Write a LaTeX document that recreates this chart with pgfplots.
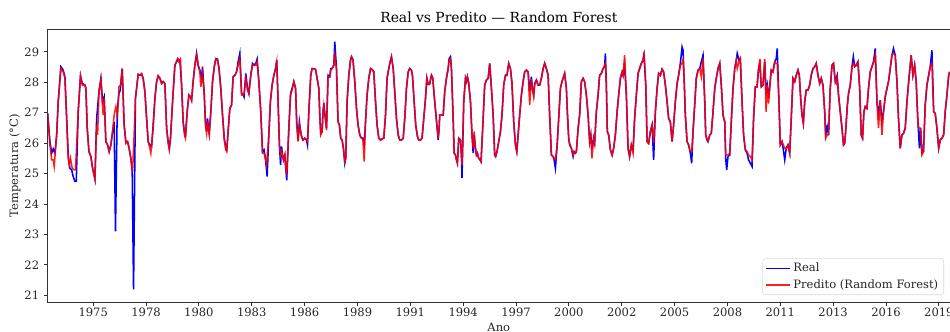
\documentclass[border=0pt]{standalone}
\usepackage{fontspec}
\setmainfont{DejaVu Serif}
\usepackage{pgfplots}
\pgfplotsset{compat=1.18}
\usepackage{pgfplotstable}

\pgfplotstableread{
x y
1972.63 26.98
1972.75 26.05
1972.84 25.67
1972.92 25.81
1973.01 25.67
1973.10 26.27
1973.18 27.36
1973.32 28.51
1973.44 28.40
1973.53 28.18
1973.62 26.81
1973.70 25.61
1973.79 25.17
1973.88 25.12
1973.96 24.90
1974.05 24.74
1974.12 24.74
1974.22 27.03
1974.34 28.21
1974.43 27.96
1974.57 27.91
1974.62 27.80
1974.69 26.49
1974.78 25.72
1974.88 25.56
1974.97 25.17
1975.09 24.82
1975.18 26.81
1975.30 27.69
1975.40 28.13
1975.49 27.36
1975.57 27.52
1975.66 26.05
1975.75 25.94
1975.83 25.72
1975.92 25.94
1976.01 26.38
1976.09 26.70
1976.16 23.10
1976.25 27.03
1976.34 27.63
1976.41 27.74
1976.51 28.45
1976.61 26.60
1976.70 26.05
1976.79 26.05
1976.87 25.83
1976.96 25.50
1977.03 25.07
1977.10 21.19
1977.20 27.47
1977.34 28.26
1977.43 28.23
1977.52 28.26
1977.60 28.13
1977.69 27.69
1977.78 26.81
1977.86 26.05
1977.95 25.94
1978.04 25.89
1978.12 26.60
1978.21 27.47
1978.30 28.02
1978.38 28.21
1978.47 28.13
1978.56 27.96
1978.64 28.02
1978.73 27.96
1978.82 26.49
1978.90 26.05
1978.96 25.83
1979.02 26.16
1979.13 27.36
1979.25 28.56
1979.34 28.67
1979.42 28.76
1979.51 28.73
1979.60 27.91
1979.68 26.70
1979.77 26.22
1979.80 26.22
1979.89 27.03
1979.98 27.58
1980.06 27.52
1980.12 27.41
1980.20 28.02
1980.29 28.56
1980.38 28.95
1980.46 28.56
1980.55 28.40
1980.64 28.13
1980.69 28.51
1980.78 27.58
1980.84 26.70
1980.90 26.38
1980.95 26.81
1980.98 26.60
1981.04 26.32
1981.12 27.03
1981.21 28.02
1981.30 28.51
1981.38 28.78
1981.47 28.76
1981.55 28.45
1981.64 27.80
1981.73 26.92
1981.82 26.16
1981.90 25.83
1981.95 25.78
1982.02 26.38
1982.11 27.14
1982.20 27.25
1982.28 28.18
1982.37 28.23
1982.46 28.34
1982.54 28.67
1982.63 28.95
1982.72 27.63
1982.80 27.60
1982.85 27.52
1982.94 28.29
1983.03 27.80
1983.10 27.63
1983.20 28.23
1983.29 28.62
1983.38 28.56
1983.46 28.62
1983.53 28.76
1983.62 28.02
1983.72 27.03
1983.81 25.72
1983.89 25.78
1983.96 25.50
1984.05 24.90
1984.14 26.27
1984.22 27.36
1984.31 27.91
1984.40 28.23
1984.49 28.45
1984.55 28.73
1984.62 27.36
1984.69 25.94
1984.75 25.28
1984.80 25.89
1984.85 25.61
1984.90 25.45
1984.97 25.61
1985.02 25.17
1985.07 24.78
1985.18 26.49
1985.27 27.63
1985.35 27.80
1985.44 28.02
1985.53 27.80
1985.59 26.70
1985.66 26.10
1985.73 26.70
1985.82 26.27
1985.91 26.10
1986.01 26.16
1986.10 26.10
1986.15 25.94
1986.22 27.03
1986.32 28.23
1986.39 28.45
1986.48 28.45
1986.57 28.42
1986.65 28.13
1986.74 27.80
1986.79 26.92
1986.84 26.32
1986.91 26.38
1986.96 27.03
1987.00 27.31
1987.05 26.98
1987.14 26.49
1987.22 28.23
1987.31 28.18
1987.36 28.45
1987.43 28.45
1987.52 28.56
1987.57 29.33
1987.66 28.45
1987.74 26.70
1987.81 26.60
1987.88 26.16
1987.95 26.10
1988.02 25.83
1988.09 25.34
1988.14 25.50
1988.21 27.36
1988.30 28.23
1988.39 28.73
1988.44 28.84
1988.52 28.73
1988.61 28.02
1988.70 27.14
1988.78 26.60
1988.87 26.27
1988.96 26.16
1989.03 26.16
1989.10 25.94
1989.17 26.70
1989.25 27.58
1989.34 28.13
1989.43 28.45
1989.51 28.42
1989.60 28.34
1989.69 27.36
1989.77 26.60
1989.86 26.16
1989.95 26.10
1990.03 26.14
1990.12 26.16
1990.21 26.92
1990.29 28.13
1990.38 28.45
1990.45 28.67
1990.52 28.84
1990.61 28.45
1990.69 27.69
1990.78 26.81
1990.87 26.27
1990.95 26.10
1991.04 26.10
1991.13 26.16
1991.21 26.81
1991.30 27.80
1991.39 28.34
1991.47 28.45
1991.56 28.40
1991.61 28.23
1991.70 27.36
1991.78 26.60
1991.87 26.22
1991.94 26.10
1992.03 26.10
1992.11 26.16
1992.20 26.81
1992.29 27.47
1992.36 28.13
1992.43 27.93
1992.50 27.93
1992.60 28.23
1992.67 28.13
1992.74 27.58
1992.95 26.10
1993.00 26.49
1993.03 26.92
1993.12 26.92
1993.21 26.92
1993.29 27.69
1993.38 28.13
1993.47 28.45
1993.52 28.78
1993.59 28.84
1993.64 28.45
1993.73 26.81
1993.78 25.67
1993.85 25.61
1993.90 25.45
1993.95 25.34
1994.02 26.16
1994.11 26.10
1994.16 25.61
1994.19 24.85
1994.28 27.36
1994.37 28.13
1994.42 28.02
1994.47 28.18
1994.54 27.96
1994.63 27.36
1994.71 26.27
1994.77 25.67
1994.82 26.27
1994.89 25.83
1994.94 25.61
1994.99 25.67
1995.06 25.50
1995.13 25.45
1995.18 25.39
1995.29 26.81
1995.37 27.91
1995.46 28.07
1995.55 28.13
1995.63 28.62
1995.72 27.80
1995.81 26.92
1995.89 25.61
1995.94 25.56
1996.01 25.72
1996.10 26.05
1996.19 26.38
1996.27 26.92
1996.36 27.91
1996.45 28.23
1996.53 28.23
1996.62 28.62
1996.71 28.45
1996.79 27.96
1996.88 26.70
1996.97 25.94
1997.04 25.72
1997.11 26.27
1997.19 26.92
1997.28 27.58
1997.37 28.02
1997.45 28.34
1997.54 28.40
1997.63 28.34
1997.71 27.69
1997.80 28.18
1997.85 27.80
1997.92 27.58
1997.97 27.96
1998.06 28.07
1998.15 27.91
1998.23 27.91
1998.32 28.13
1998.41 28.45
1998.49 28.62
1998.58 28.45
1998.67 28.23
1998.75 26.92
1998.84 25.61
1998.93 25.56
1998.98 25.45
1999.05 25.17
1999.14 25.94
1999.22 26.81
1999.31 27.80
1999.39 28.02
1999.50 28.23
1999.53 28.29
1999.62 27.80
1999.67 27.03
1999.74 26.16
1999.79 25.94
1999.88 25.83
1999.97 25.56
2000.02 25.72
2000.09 25.67
2000.14 25.72
2000.23 26.49
2000.31 26.92
2000.40 28.02
2000.49 28.13
2000.57 28.02
2000.66 27.58
2000.75 26.92
2000.83 26.05
2000.89 26.27
2000.95 25.83
2001.04 26.16
2001.09 26.00
2001.18 27.03
2001.27 27.58
2001.35 28.23
2001.44 28.29
2001.53 28.45
2001.61 28.51
2001.65 28.95
2001.70 27.91
2001.75 26.38
2001.82 26.27
2001.91 25.78
2002.00 25.61
2002.08 25.83
2002.17 26.27
2002.26 27.03
2002.34 27.58
2002.43 28.13
2002.52 28.34
2002.57 28.23
2002.65 28.56
2002.74 27.58
2002.83 25.83
2002.91 25.56
2003.00 25.94
2003.09 25.78
2003.17 26.81
2003.26 27.58
2003.35 28.29
2003.43 28.45
2003.52 28.62
2003.61 28.73
2003.66 28.89
2003.75 27.91
2003.82 26.05
2003.90 25.99
2003.99 26.38
2004.08 26.60
2004.16 25.45
2004.25 27.03
2004.34 27.80
2004.42 28.29
2004.51 28.23
2004.60 28.43
2004.68 28.34
2004.77 27.91
2004.86 27.36
2004.94 26.81
2005.03 26.70
2005.12 26.05
2005.20 26.60
2005.29 27.36
2005.38 27.96
2005.46 28.23
2005.55 28.62
2005.64 29.16
2005.69 29.05
2005.74 28.23
2005.81 26.92
2005.90 26.05
2005.98 25.94
2006.07 25.67
2006.14 25.34
2006.21 26.38
2006.29 27.20
2006.38 28.13
2006.47 28.40
2006.56 28.45
2006.64 28.67
2006.73 28.89
2006.82 27.36
2006.87 26.27
2006.94 26.10
2006.99 26.05
2007.08 26.27
2007.16 26.32
2007.25 27.03
2007.34 27.80
2007.42 28.13
2007.51 28.45
2007.60 28.62
2007.68 27.91
2007.77 26.92
2007.86 26.70
2007.91 25.50
2007.96 25.12
2008.03 25.56
2008.12 25.61
2008.20 26.70
2008.29 27.80
2008.38 28.45
2008.46 28.73
2008.51 28.95
2008.60 28.73
2008.67 28.78
2008.76 27.36
2008.84 26.27
2008.93 25.78
2009.02 25.67
2009.10 25.45
2009.19 25.34
2009.28 25.23
2009.36 26.81
2009.45 27.85
2009.54 27.85
2009.62 28.45
2009.69 28.62
2009.76 27.85
2009.85 27.91
2009.94 28.67
2010.01 27.69
2010.07 27.91
2010.14 27.47
2010.21 27.91
2010.28 28.40
2010.37 28.34
2010.46 28.67
2010.54 28.78
2010.59 29.11
2010.68 27.36
2010.75 25.94
2010.84 26.05
2010.91 25.78
2010.98 25.45
2011.06 25.83
2011.15 25.94
2011.24 25.67
2011.32 26.81
2011.41 28.13
2011.50 28.02
2011.58 28.23
2011.67 28.40
2011.74 28.23
2011.81 27.47
2011.88 26.92
2011.95 26.65
2012.02 27.36
2012.10 27.74
2012.19 27.74
2012.28 27.91
2012.36 28.23
2012.45 28.45
2012.54 28.51
2012.62 28.62
2012.71 28.23
2012.80 27.96
2012.88 28.13
2012.97 27.91
2013.06 27.03
2013.11 26.27
2013.19 26.54
2013.26 26.27
2013.35 27.80
2013.44 28.56
2013.52 28.62
2013.61 28.02
2013.71 28.23
2013.78 27.58
2013.87 27.03
2013.96 26.49
2014.04 25.94
2014.10 25.99
2014.15 26.38
2014.24 27.25
2014.30 27.63
2014.39 27.91
2014.48 28.51
2014.55 28.84
2014.62 28.51
2014.70 28.56
2014.79 28.67
2014.88 27.80
2014.96 26.27
2015.03 26.16
2015.10 27.03
2015.17 27.20
2015.26 27.14
2015.34 27.80
2015.43 28.34
2015.52 28.51
2015.60 28.67
2015.69 29.11
2015.78 27.36
2015.86 26.92
2015.95 27.41
2016.04 26.70
2016.12 27.03
2016.21 27.52
2016.30 27.80
2016.38 28.02
2016.47 28.45
2016.56 28.89
2016.64 29.11
2016.73 28.89
2016.82 28.02
2016.90 26.81
2016.99 25.83
2017.08 26.27
2017.16 26.32
2017.25 26.49
2017.34 27.36
2017.43 28.02
2017.51 28.56
2017.56 28.89
2017.65 28.23
2017.74 28.56
2017.82 28.02
2017.91 26.70
2017.99 25.83
2018.05 26.49
2018.12 25.67
2018.20 25.72
2018.29 27.25
2018.38 27.91
2018.47 28.23
2018.55 28.51
2018.64 29.05
2018.73 27.03
2018.81 26.98
2018.90 26.49
2018.99 25.83
2019.07 26.10
2019.16 26.16
2019.25 26.27
2019.33 27.03
2019.42 27.58
2019.51 28.23
2019.56 28.34
}\real

\pgfplotstableread{
x y
1972.63 26.98
1972.75 25.94
1972.84 25.45
1972.92 25.45
1972.97 25.23
1973.10 26.27
1973.18 27.36
1973.32 28.45
1973.44 28.34
1973.53 28.13
1973.62 26.81
1973.70 25.50
1973.75 25.28
1973.82 25.50
1973.91 25.17
1974.00 25.12
1974.08 25.12
1974.22 27.03
1974.34 28.21
1974.43 27.91
1974.57 27.91
1974.62 27.80
1974.69 26.49
1974.78 25.72
1974.88 25.56
1974.97 25.17
1975.09 24.82
1975.18 26.60
1975.23 26.27
1975.30 27.69
1975.40 28.07
1975.47 27.36
1975.52 26.92
1975.57 27.47
1975.66 26.05
1975.75 25.94
1975.83 25.72
1975.92 25.94
1976.01 26.38
1976.09 26.92
1976.18 27.20
1976.27 26.92
1976.34 27.85
1976.42 27.91
1976.51 28.45
1976.61 26.60
1976.70 25.99
1976.79 26.05
1976.87 25.83
1976.96 25.50
1977.05 25.07
1977.13 26.27
1977.20 27.47
1977.34 28.26
1977.43 28.23
1977.52 28.29
1977.60 28.13
1977.69 27.69
1977.78 26.81
1977.86 26.05
1977.95 25.83
1978.00 25.67
1978.07 26.16
1978.12 26.49
1978.21 27.47
1978.30 28.02
1978.38 28.21
1978.47 28.13
1978.56 27.96
1978.64 28.02
1978.73 27.96
1978.82 26.49
1978.90 25.99
1978.96 25.78
1979.02 26.10
1979.13 27.36
1979.25 28.56
1979.39 28.78
1979.46 28.67
1979.54 28.76
1979.60 27.91
1979.68 26.70
1979.77 26.22
1979.80 26.16
1979.89 27.03
1979.98 27.58
1980.06 27.52
1980.12 27.41
1980.20 28.02
1980.29 28.56
1980.38 28.89
1980.46 28.56
1980.55 28.34
1980.60 27.85
1980.69 28.29
1980.78 27.58
1980.84 26.60
1980.90 26.32
1980.95 26.70
1980.98 26.49
1981.04 26.27
1981.12 27.03
1981.21 28.02
1981.30 28.51
1981.38 28.76
1981.47 28.73
1981.55 28.40
1981.64 27.80
1981.73 26.92
1981.82 26.10
1981.90 25.78
1981.95 25.72
1982.02 26.38
1982.11 27.14
1982.20 27.25
1982.28 28.18
1982.37 28.23
1982.46 28.34
1982.54 28.56
1982.63 28.78
1982.72 27.58
1982.80 27.58
1982.85 27.63
1982.94 28.13
1983.03 27.74
1983.10 27.63
1983.20 28.23
1983.29 28.56
1983.38 28.56
1983.46 28.56
1983.53 28.67
1983.62 28.02
1983.72 27.03
1983.81 25.67
1983.89 25.67
1983.96 25.50
1984.02 25.28
1984.14 26.27
1984.22 27.36
1984.31 27.91
1984.40 28.23
1984.49 28.45
1984.55 28.67
1984.62 27.36
1984.69 25.94
1984.75 25.61
1984.80 25.72
1984.85 25.61
1984.90 25.45
1984.97 25.61
1985.02 25.17
1985.07 24.96
1985.18 26.49
1985.27 27.58
1985.35 27.74
1985.44 28.02
1985.53 27.80
1985.59 26.60
1985.66 26.05
1985.73 26.60
1985.82 26.27
1985.91 26.10
1986.01 26.16
1986.10 26.10
1986.15 26.05
1986.22 27.03
1986.32 28.23
1986.39 28.45
1986.48 28.45
1986.57 28.42
1986.65 28.13
1986.74 27.80
1986.79 26.92
1986.84 26.27
1986.91 26.38
1986.96 27.03
1987.00 27.25
1987.05 26.98
1987.14 26.43
1987.22 28.18
1987.31 28.18
1987.36 28.40
1987.43 28.45
1987.52 28.56
1987.57 28.89
1987.66 28.40
1987.74 26.70
1987.81 26.60
1987.88 26.16
1987.95 26.10
1988.02 25.83
1988.09 25.39
1988.14 25.50
1988.21 27.36
1988.30 28.23
1988.39 28.73
1988.44 28.84
1988.52 28.73
1988.61 28.02
1988.70 27.14
1988.78 26.60
1988.87 26.27
1988.96 26.16
1989.03 26.16
1989.10 25.39
1989.17 26.70
1989.25 27.58
1989.34 28.13
1989.43 28.45
1989.51 28.42
1989.60 28.34
1989.69 27.36
1989.77 26.60
1989.86 26.16
1989.95 26.10
1990.03 26.14
1990.12 26.16
1990.21 26.92
1990.29 28.13
1990.38 28.45
1990.45 28.67
1990.52 28.84
1990.61 28.45
1990.69 27.69
1990.78 26.81
1990.87 26.27
1990.95 26.10
1991.04 26.10
1991.13 26.16
1991.21 26.81
1991.30 27.80
1991.39 28.34
1991.47 28.45
1991.56 28.40
1991.61 28.23
1991.70 27.36
1991.78 26.60
1991.87 26.22
1991.94 26.10
1992.03 26.10
1992.11 26.16
1992.20 26.81
1992.29 27.47
1992.36 28.13
1992.43 27.93
1992.50 27.93
1992.60 28.23
1992.67 28.13
1992.74 27.58
1992.95 26.16
1993.00 26.49
1993.03 26.92
1993.12 26.92
1993.21 26.92
1993.29 27.69
1993.38 28.13
1993.47 28.45
1993.52 28.73
1993.59 28.78
1993.64 28.45
1993.73 26.81
1993.78 25.67
1993.85 25.61
1993.90 25.45
1993.95 25.34
1994.02 26.16
1994.11 26.10
1994.16 25.56
1994.19 25.28
1994.28 27.36
1994.37 28.13
1994.42 28.02
1994.47 28.18
1994.54 27.96
1994.63 27.36
1994.71 26.27
1994.77 25.83
1994.82 26.38
1994.89 25.83
1994.94 25.61
1994.99 25.67
1995.06 25.50
1995.13 25.45
1995.18 25.39
1995.29 26.81
1995.37 27.91
1995.46 28.07
1995.55 28.13
1995.63 28.62
1995.72 27.80
1995.81 26.92
1995.89 25.61
1995.94 25.56
1996.01 25.72
1996.10 26.05
1996.19 26.38
1996.27 26.92
1996.36 27.91
1996.45 28.23
1996.53 28.23
1996.62 28.62
1996.71 28.45
1996.79 27.96
1996.88 26.70
1996.97 25.94
1997.04 25.72
1997.11 26.27
1997.19 26.92
1997.28 27.58
1997.37 28.02
1997.45 28.34
1997.54 28.40
1997.63 28.34
1997.71 27.25
1997.80 28.10
1997.85 27.80
1997.92 27.52
1997.97 27.91
1998.06 28.07
1998.15 27.91
1998.23 27.91
1998.32 28.13
1998.41 28.45
1998.49 28.62
1998.58 28.45
1998.67 28.23
1998.75 26.92
1998.84 25.61
1998.93 25.56
1998.98 25.50
1999.05 25.45
1999.14 25.94
1999.22 26.81
1999.31 27.80
1999.39 28.02
1999.50 28.23
1999.53 28.29
1999.62 27.80
1999.67 27.03
1999.74 26.16
1999.79 25.99
1999.88 25.83
1999.97 25.61
2000.02 25.72
2000.09 25.67
2000.14 25.72
2000.23 26.49
2000.31 26.92
2000.40 28.02
2000.49 28.13
2000.57 28.02
2000.66 27.58
2000.75 26.92
2000.83 26.05
2000.89 26.27
2000.95 25.50
2001.04 26.16
2001.09 26.00
2001.18 27.03
2001.27 27.58
2001.35 28.23
2001.44 28.29
2001.53 28.45
2001.61 28.56
2001.65 28.62
2001.70 27.91
2001.75 26.38
2001.82 26.27
2001.91 25.78
2002.00 25.61
2002.08 25.83
2002.17 26.27
2002.26 27.03
2002.34 27.58
2002.43 28.13
2002.52 28.34
2002.57 28.23
2002.65 28.89
2002.74 27.58
2002.83 25.83
2002.91 25.56
2003.00 25.94
2003.09 25.67
2003.17 26.81
2003.26 27.58
2003.35 28.29
2003.43 28.45
2003.52 28.62
2003.61 28.73
2003.66 29.00
2003.75 27.91
2003.82 26.05
2003.90 25.99
2003.99 26.38
2004.08 26.60
2004.16 26.00
2004.25 27.03
2004.34 27.80
2004.42 28.29
2004.51 28.23
2004.60 28.43
2004.68 28.34
2004.77 27.91
2004.86 27.36
2004.94 26.81
2005.03 26.70
2005.12 26.05
2005.20 26.60
2005.29 27.36
2005.38 27.96
2005.46 28.23
2005.55 28.56
2005.64 28.62
2005.69 28.73
2005.74 28.23
2005.81 26.92
2005.90 26.05
2005.98 25.94
2006.07 25.72
2006.14 25.72
2006.21 26.38
2006.29 27.20
2006.38 28.13
2006.47 28.40
2006.56 28.45
2006.64 28.18
2006.73 28.78
2006.82 27.36
2006.87 26.27
2006.94 26.10
2006.99 26.05
2007.08 26.27
2007.16 26.32
2007.25 27.03
2007.34 27.80
2007.42 28.13
2007.51 28.45
2007.60 28.62
2007.68 27.91
2007.77 26.92
2007.86 26.70
2007.91 25.61
2007.96 25.61
2008.03 25.61
2008.12 25.67
2008.20 26.70
2008.29 27.80
2008.38 28.45
2008.46 28.73
2008.51 28.45
2008.60 28.67
2008.67 28.78
2008.76 27.36
2008.84 26.27
2008.93 25.78
2009.02 25.72
2009.10 25.61
2009.19 25.56
2009.24 25.50
2009.28 25.45
2009.36 26.81
2009.45 27.85
2009.54 27.85
2009.62 28.45
2009.69 28.76
2009.76 27.85
2009.85 27.91
2009.94 28.76
2010.01 27.03
2010.07 27.91
2010.14 27.30
2010.21 27.91
2010.28 28.40
2010.37 28.34
2010.46 28.67
2010.54 28.62
2010.59 28.62
2010.68 27.36
2010.75 25.94
2010.84 26.05
2010.91 25.94
2010.98 25.83
2011.06 25.83
2011.15 25.94
2011.24 25.67
2011.32 26.81
2011.41 28.13
2011.50 28.02
2011.58 28.23
2011.67 28.40
2011.74 28.23
2011.81 27.47
2011.88 26.92
2011.95 26.65
2012.02 27.36
2012.10 27.74
2012.19 27.74
2012.28 27.91
2012.36 28.23
2012.45 28.45
2012.54 28.51
2012.62 28.62
2012.71 28.23
2012.80 27.96
2012.88 28.13
2012.97 27.91
2013.06 27.03
2013.11 26.16
2013.19 26.27
2013.26 26.27
2013.35 27.80
2013.44 28.56
2013.52 28.62
2013.61 28.02
2013.66 27.96
2013.71 28.13
2013.78 27.58
2013.87 27.03
2013.96 26.49
2014.04 25.94
2014.10 25.99
2014.15 26.38
2014.24 27.25
2014.30 27.63
2014.39 27.91
2014.48 28.51
2014.55 28.62
2014.62 28.51
2014.70 28.56
2014.79 28.67
2014.88 27.80
2014.96 26.27
2015.03 26.16
2015.10 27.03
2015.17 27.20
2015.26 27.14
2015.34 27.80
2015.43 28.34
2015.52 28.51
2015.60 28.67
2015.69 28.89
2015.78 27.36
2015.86 26.49
2015.95 27.41
2016.04 26.27
2016.12 27.03
2016.21 27.52
2016.30 27.80
2016.38 28.02
2016.47 28.45
2016.56 28.89
2016.64 28.95
2016.73 28.89
2016.82 28.02
2016.90 26.81
2016.99 25.83
2017.08 26.27
2017.16 26.32
2017.25 26.49
2017.34 27.36
2017.43 28.02
2017.51 28.56
2017.56 28.89
2017.65 28.23
2017.74 28.56
2017.82 28.02
2017.91 26.70
2017.96 26.49
2018.05 26.49
2018.12 25.61
2018.20 25.72
2018.29 27.25
2018.38 27.91
2018.47 28.23
2018.55 28.51
2018.64 28.62
2018.73 27.03
2018.81 26.98
2018.90 26.49
2018.99 25.83
2019.07 26.10
2019.16 26.16
2019.25 26.27
2019.33 27.03
2019.42 27.58
2019.51 28.23
2019.56 28.34
}\pred

\begin{document}
\begin{tikzpicture}
\begin{axis}[
  at={(0,0)}, anchor=south west,
  scale only axis, width=649.7pt, height=196.3pt,
  xmin=1972.63, xmax=2019.58, ymin=20.78, ymax=29.74,
  xtick={1975,1977.75,1980.5,1983.25,1986,1988.75,1991.5,1994.25,1997,1999.75,2002.5,2005.25,2008,2010.75,2013.5,2016.25,2019},
  xticklabels={1975,1978,1980,1983,1986,1989,1991,1994,1997,2000,2002,2005,2008,2011,2013,2016,2019},
  ytick={21,22,...,29},
  /pgf/number format/assume math mode=true,
  tick align=outside, tick pos=left,
  major tick length=2.6pt,
  every tick/.style={black!80, line width=0.6pt},
  axis line style={black!80, line width=0.6pt},
  tick label style={font=\fontsize{8.3}{10}\selectfont, text=black!85},
  xticklabel style={yshift=1.5pt},
  title={Real vs Predito — Random Forest},
  title style={font=\fontsize{10}{12}\selectfont, yshift=-4.5pt},
  xlabel={Ano}, ylabel={Temperatura (°C)},
  label style={font=\fontsize{8.3}{10}\selectfont, text=black!85},
  xlabel shift=-2.5pt,
  ylabel shift=-4pt,
  legend style={at={(rel axis cs:1,0)}, anchor=south east, xshift=-4.3pt, yshift=5pt,
    draw=black!15, rounded corners=2pt, fill=white,
    font=\fontsize{8.3}{10}\selectfont, text=black!85,
    inner xsep=2pt, inner ysep=1.2pt, row sep=0pt},
  legend cell align=left,
]
\addplot[blue, line width=1.1pt] table[x=x, y=y] {\real};
\addlegendentry{Real}
\addplot[red, line width=1.1pt, opacity=0.88] table[x=x, y=y] {\pred};
\addlegendentry{Predito (Random Forest)}
\end{axis}
\pgfresetboundingbox
\useasboundingbox (-34.3pt,-21.6pt) rectangle (649.7pt,217.4pt);
\end{tikzpicture}
\end{document}
